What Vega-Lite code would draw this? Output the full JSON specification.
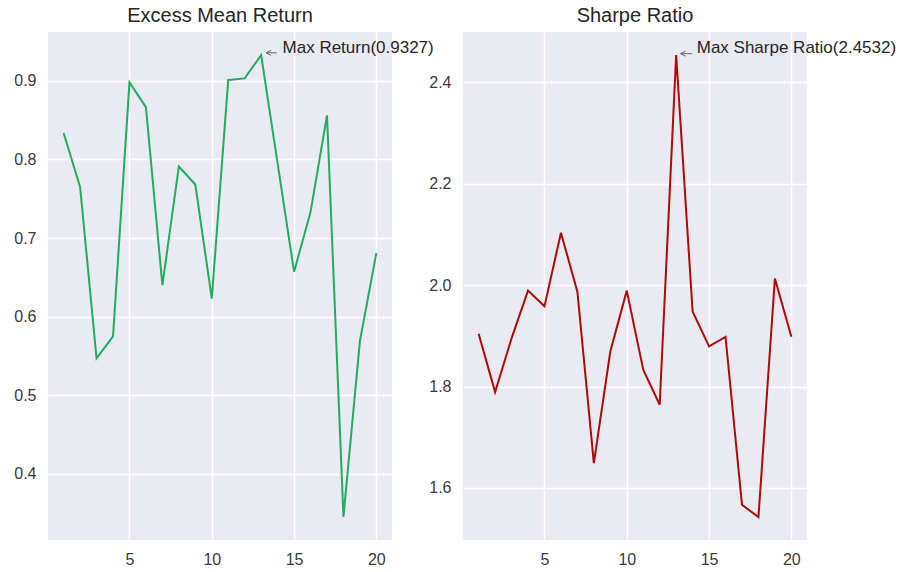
{
  "$schema": "https://vega.github.io/schema/vega-lite/v6.json",
  "background": "white",
  "padding": {"left": 13, "top": 6, "right": 5, "bottom": 5},
  "bounds": "flush",
  "spacing": 71,
  "config": {
    "view": {"fill": "#eaeaf2", "stroke": null},
    "axis": {"domain": false, "ticks": false, "tickSize": 0, "grid": true, "gridColor": "white", "gridWidth": 1.5, "labelFont": "Liberation Sans", "labelFontSize": 16, "labelColor": "#3a3a3a", "title": null},
    "title": {"font": "Liberation Sans", "fontSize": 20, "fontWeight": "normal", "color": "#262626", "offset": 6, "frame": "group", "anchor": "middle"}
  },
  "datasets": {
    "ret": [
      {"n": 1, "v": 0.8335}, {"n": 2, "v": 0.765}, {"n": 3, "v": 0.547}, {"n": 4, "v": 0.575},
      {"n": 5, "v": 0.898}, {"n": 6, "v": 0.8665}, {"n": 7, "v": 0.640}, {"n": 8, "v": 0.791},
      {"n": 9, "v": 0.768}, {"n": 10, "v": 0.623}, {"n": 11, "v": 0.901}, {"n": 12, "v": 0.903},
      {"n": 13, "v": 0.9327}, {"n": 14, "v": 0.795}, {"n": 15, "v": 0.657}, {"n": 16, "v": 0.733},
      {"n": 17, "v": 0.856}, {"n": 18, "v": 0.3455}, {"n": 19, "v": 0.569}, {"n": 20, "v": 0.681}
    ],
    "sharpe": [
      {"n": 1, "v": 1.904}, {"n": 2, "v": 1.789}, {"n": 3, "v": 1.895}, {"n": 4, "v": 1.989},
      {"n": 5, "v": 1.958}, {"n": 6, "v": 2.103}, {"n": 7, "v": 1.987}, {"n": 8, "v": 1.649},
      {"n": 9, "v": 1.869}, {"n": 10, "v": 1.989}, {"n": 11, "v": 1.833}, {"n": 12, "v": 1.764},
      {"n": 13, "v": 2.4532}, {"n": 14, "v": 1.948}, {"n": 15, "v": 1.879}, {"n": 16, "v": 1.898},
      {"n": 17, "v": 1.567}, {"n": 18, "v": 1.5425}, {"n": 19, "v": 2.013}, {"n": 20, "v": 1.898}
    ],
    "annL": [{"x1": 13.3, "x2": 13.95, "xh": 13.45, "y": 0.9355, "tx": 14.3, "ty": 0.9355, "label": "Max Return(0.9327)"}],
    "annR": [{"x1": 13.27, "x2": 13.97, "xh": 13.42, "y": 2.456, "tx": 14.25, "ty": 2.457, "label": "Max Sharpe Ratio(2.4532)"}]
  },
  "hconcat": [
    {
      "width": 344,
      "height": 508,
      "title": "Excess Mean Return",
      "layer": [
        {
          "data": {"name": "ret"},
          "mark": {"type": "line", "color": "#21ad5f", "strokeWidth": 2},
          "encoding": {
            "x": {"field": "n", "type": "quantitative", "scale": {"domain": [0.05, 20.95], "nice": false, "zero": false}, "axis": {"values": [5, 10, 15, 20], "labelPadding": 11}},
            "y": {"field": "v", "type": "quantitative", "scale": {"domain": [0.316, 0.962], "nice": false, "zero": false}, "axis": {"values": [0.4, 0.5, 0.6, 0.7, 0.8, 0.9], "format": ".1f", "labelPadding": 12}}
          }
        },
        {
          "data": {"name": "annL"},
          "mark": {"type": "rule", "color": "#666666", "strokeWidth": 1},
          "encoding": {"x": {"field": "x1", "type": "quantitative"}, "x2": {"field": "x2"}, "y": {"field": "y", "type": "quantitative"}}
        },
        {
          "data": {"name": "annL"},
          "mark": {"type": "point", "shape": "M1,-1L-1,0L1,1", "size": 25, "filled": false, "stroke": "#666666", "strokeWidth": 1, "opacity": 1},
          "encoding": {"x": {"field": "xh", "type": "quantitative"}, "y": {"field": "y", "type": "quantitative"}}
        },
        {
          "data": {"name": "annL"},
          "mark": {"type": "text", "align": "left", "baseline": "alphabetic", "font": "Liberation Sans", "fontSize": 17, "color": "#262626"},
          "encoding": {"x": {"field": "tx", "type": "quantitative"}, "y": {"field": "ty", "type": "quantitative"}, "text": {"field": "label"}}
        }
      ]
    },
    {
      "width": 344,
      "height": 508,
      "title": "Sharpe Ratio",
      "layer": [
        {
          "data": {"name": "sharpe"},
          "mark": {"type": "line", "color": "#ad0a0a", "strokeWidth": 2},
          "encoding": {
            "x": {"field": "n", "type": "quantitative", "scale": {"domain": [0.05, 20.95], "nice": false, "zero": false}, "axis": {"values": [5, 10, 15, 20], "labelPadding": 11}},
            "y": {"field": "v", "type": "quantitative", "scale": {"domain": [1.4975, 2.4987], "nice": false, "zero": false}, "axis": {"values": [1.6, 1.8, 2.0, 2.2, 2.4], "format": ".1f", "labelPadding": 12}}
          }
        },
        {
          "data": {"name": "annR"},
          "mark": {"type": "rule", "color": "#666666", "strokeWidth": 1},
          "encoding": {"x": {"field": "x1", "type": "quantitative"}, "x2": {"field": "x2"}, "y": {"field": "y", "type": "quantitative"}}
        },
        {
          "data": {"name": "annR"},
          "mark": {"type": "point", "shape": "M1,-1L-1,0L1,1", "size": 25, "filled": false, "stroke": "#666666", "strokeWidth": 1, "opacity": 1},
          "encoding": {"x": {"field": "xh", "type": "quantitative"}, "y": {"field": "y", "type": "quantitative"}}
        },
        {
          "data": {"name": "annR"},
          "mark": {"type": "text", "align": "left", "baseline": "alphabetic", "font": "Liberation Sans", "fontSize": 17, "color": "#262626"},
          "encoding": {"x": {"field": "tx", "type": "quantitative"}, "y": {"field": "ty", "type": "quantitative"}, "text": {"field": "label"}}
        }
      ]
    }
  ]
}
